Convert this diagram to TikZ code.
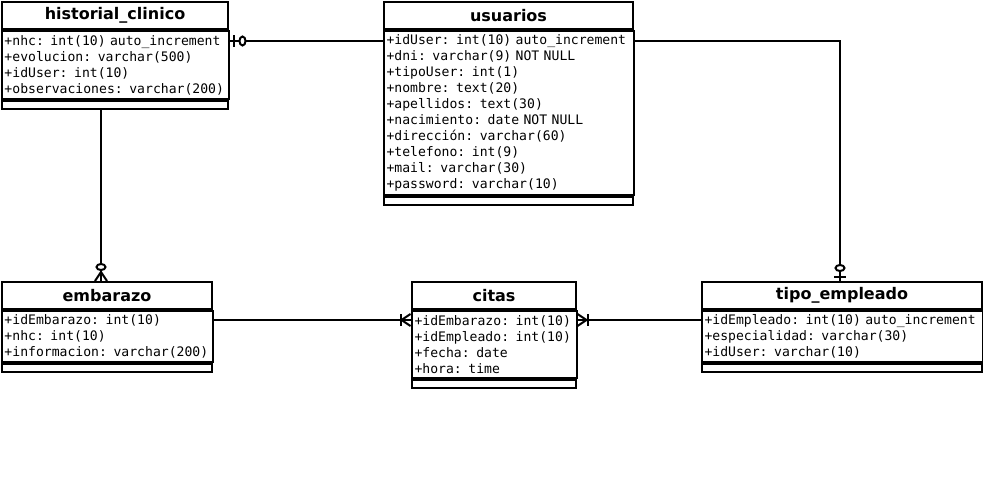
\documentclass[tikz,border=0pt]{standalone}
\usepackage{fontspec}
\setmainfont{DejaVu Sans}
\setmonofont{DejaVu Sans Mono}
\usepackage{tikz}
\usetikzlibrary{
  positioning,
  calc,
}
\newcommand{\headfont}{\bfseries\fontsize{16}{19}\selectfont}
\newcommand{\attrfont}{\ttfamily\fontsize{13.1}{16}\selectfont}
\tikzset{
  tblhead/.style={
    rectangle, draw=black, line width=2pt, fill=white,
    minimum width=#1, minimum height=27, inner sep=0pt,
    font=\headfont, anchor=north west,
  },
  tblbody/.style={
    rectangle, draw=black, line width=2pt, fill=white,
    text width=#1, inner xsep=3pt, inner ysep=2pt,
    align=left, font=\attrfont,
  },
  tblfoot/.style={
    rectangle, draw=black, line width=2pt, fill=white,
    minimum width=#1, minimum height=8, inner sep=0pt,
  },
  erline/.style={
    line width=2pt, draw=black,
  },
  % markers, drawn from the table edge outwards
  pics/zeroOne/.style={code={
    \draw[erline] (4,-6) -- (4,6);
    \draw[erline, fill=white] (13,0) ellipse (3 and 4.5);
  }},
  pics/zeroMany/.style={code={
    \draw[erline] (0,-6) -- (9,0) -- (0,6);
    \draw[erline, fill=white] (14,0) ellipse (3 and 4.5);
  }},
  pics/oneMany/.style={code={
    \draw[erline] (0,-6) -- (9,0) -- (0,6);
    \draw[erline] (10,-6) -- (10,6);
  }},
}

\begin{document}
\begin{tikzpicture}[x=1pt, y=-1pt]
\useasboundingbox[fill=white] (0,0) rectangle (983,480);

% historial_clinico
\node[tblhead=226] (hclinHead) at (1,1) {historial\_clinico};
\node[tblbody=221pt, minimum height=68, below=0pt of hclinHead] (hclinBody) {%
  +nhc: int(10) auto\_increment\\
  +evolucion: varchar(500)\\
  +idUser: int(10)\\
  +observaciones: varchar(200)%
};
\node[tblfoot=226, below=0pt of hclinBody] (hclinFoot) {};

% usuarios
\node[tblhead=249] (usuHead) at (383,1) {usuarios};
\node[tblbody=244pt, minimum height=164, below=0pt of usuHead] (usuBody) {%
  +idUser: int(10) auto\_increment\\
  +dni: varchar(9) NOT NULL\\
  +tipoUser: int(1)\\
  +nombre: text(20)\\
  +apellidos: text(30)\\
  +nacimiento: date NOT NULL\\
  +dirección: varchar(60)\\
  +telefono: int(9)\\
  +mail: varchar(30)\\
  +password: varchar(10)%
};
\node[tblfoot=249, below=0pt of usuBody] (usuFoot) {};

% embarazo
\node[tblhead=210] (embHead) at (1,281) {embarazo};
\node[tblbody=205pt, minimum height=51, below=0pt of embHead] (embBody) {%
  +idEmbarazo: int(10)\\
  +nhc: int(10)\\
  +informacion: varchar(200)%
};
\node[tblfoot=210, below=0pt of embBody] (embFoot) {};

% citas
\node[tblhead=164] (citHead) at (411,281) {citas};
\node[tblbody=159pt, minimum height=67, below=0pt of citHead] (citBody) {%
  +idEmbarazo: int(10)\\
  +idEmpleado: int(10)\\
  +fecha: date\\
  +hora: time%
};
\node[tblfoot=164, below=0pt of citBody] (citFoot) {};

% tipo_empleado
\node[tblhead=280] (tipoHead) at (701,281) {tipo\_empleado};
\node[tblbody=275pt, minimum height=51, below=0pt of tipoHead] (tipoBody) {%
  +idEmpleado: int(10) auto\_increment\\
  +especialidad: varchar(30)\\
  +idUser: varchar(10)%
};
\node[tblfoot=280, below=0pt of tipoBody] (tipoFoot) {};

% Relations
\coordinate (hclinOut) at ($(hclinBody.north east)+(0,11)$);
\coordinate (usuIn)    at ($(usuBody.north west)+(0,11)$);
\coordinate (usuOut)   at ($(usuBody.north east)+(0,11)$);
\coordinate (hclinDown) at ($(hclinFoot.south west)+(100,0)$);
\coordinate (embIn)    at (hclinDown |- embHead.north);
\coordinate (tipoIn)   at ($(tipoHead.north west)+(139,0)$);
\coordinate (embOut)   at ($(embBody.north east)+(0,10)$);
\coordinate (citLeft)  at ($(citBody.north west)+(0,10)$);
\coordinate (citRight) at ($(citBody.north east)+(0,10)$);
\coordinate (tipoOut)  at ($(tipoBody.north west)+(0,10)$);

\draw[erline] (hclinOut) -- (usuIn);
\draw[erline] (hclinDown) -- (embIn);
\draw[erline] (usuOut) -| (tipoIn);
\draw[erline] (embOut) -- (citLeft);
\draw[erline] (tipoOut) -- (citRight);

\pic at (hclinOut) {zeroOne};
\pic[rotate=90] at (embIn) {zeroMany};
\pic[rotate=90] at (tipoIn) {zeroOne};
\pic[rotate=180] at (citLeft) {oneMany};
\pic at (citRight) {oneMany};

\end{tikzpicture}
\end{document}
